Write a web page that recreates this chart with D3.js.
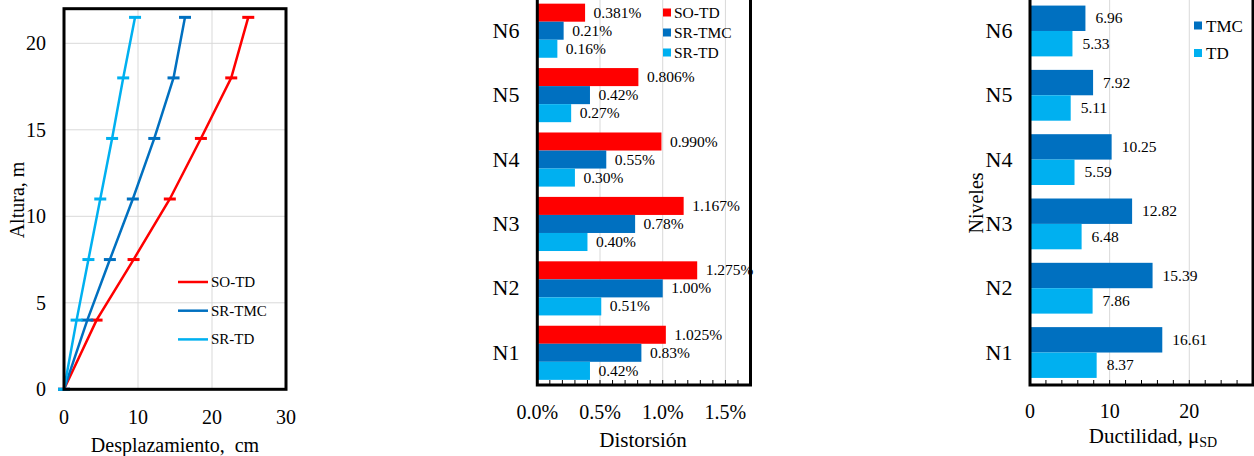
<!DOCTYPE html>
<html>
<head>
<meta charset="utf-8">
<script src="https://cdn.jsdelivr.net/npm/d3@7"></script>
<style>
  body { margin: 0; background: #fff; }
  svg, text { font-family: "Liberation Serif", "Times New Roman", "DejaVu Serif", serif; fill: #000; }
</style>
</head>
<body>
<svg id="chart" width="1254" height="456" font-family="Liberation Serif, serif"></svg>
<script>
'use strict';

// ── Data ─────────────────────────────────────────────────────────────────────
// Panel 1: lateral displacement profile
const heights   = [0, 4, 7.5, 11, 14.5, 18, 21.5];
const dispSOTD  = [0, 4.4, 9.4, 14.3, 18.5, 22.6, 24.9];
const dispSRTMC = [0, 3.15, 6.2, 9.3, 12.2, 14.8, 16.35];
const dispSRTD  = [0, 1.7, 3.3, 4.9, 6.5, 8.0, 9.6];
const dispTicksX = [0, 10, 20, 30];
const dispTicksY = [0, 5, 10, 15, 20];

// Panel 2: inter-storey drift (%)
const levels     = ['N1', 'N2', 'N3', 'N4', 'N5', 'N6'];
const driftSOTD  = [1.025, 1.275, 1.167, 0.990, 0.806, 0.381];
const driftSRTMC = [0.83, 1.00, 0.78, 0.55, 0.42, 0.21];
const driftSRTD  = [0.42, 0.51, 0.40, 0.30, 0.27, 0.16];
const driftTicks = [0, 0.5, 1.0, 1.5];

// Panel 3: ductility
const ductTMC   = [16.61, 15.39, 12.82, 10.25, 7.92, 6.96];
const ductTD    = [8.37, 7.86, 6.48, 5.59, 5.11, 5.33];
const ductTicks = [0, 10, 20];

const RED   = '#ff0000';
const DBLUE = '#0070c0';
const LBLUE = '#00b0f0';
const GRID  = '#d9d9d9';

const svg = d3.select('#chart');

// ── Panel 1 ──────────────────────────────────────────────────────────────────
(function drawDisplacement() {
  const x = d3.scaleLinear().domain([0, 30]).range([64, 286]);
  const y = d3.scaleLinear().domain([0, 22]).range([389.3, 8.7]);
  const g = svg.append('g');

  g.selectAll('.vg').data(dispTicksX.slice(1, -1)).enter().append('line')
    .attr('x1', d => x(d)).attr('x2', d => x(d))
    .attr('y1', y(22)).attr('y2', y(0))
    .attr('stroke', GRID).attr('stroke-width', 1);
  g.selectAll('.hg').data(dispTicksY.slice(1)).enter().append('line')
    .attr('x1', x(0)).attr('x2', x(30))
    .attr('y1', d => y(d)).attr('y2', d => y(d))
    .attr('stroke', GRID).attr('stroke-width', 1);

  const series = [
    { name: 'SO-TD',  vals: dispSOTD,  color: RED },
    { name: 'SR-TMC', vals: dispSRTMC, color: DBLUE },
    { name: 'SR-TD',  vals: dispSRTD,  color: LBLUE },
  ];
  const line = d3.line().x(d => x(d[0])).y(d => y(d[1]));

  series.forEach(s => {
    const pts = s.vals.map((v, i) => [v, heights[i]]);
    g.append('path').datum(pts).attr('d', line)
      .attr('fill', 'none').attr('stroke', s.color).attr('stroke-width', 2.5);
    g.selectAll(null).data(pts).enter().append('line')
      .attr('x1', d => x(d[0]) - 6).attr('x2', d => x(d[0]) + 6)
      .attr('y1', d => y(d[1])).attr('y2', d => y(d[1]))
      .attr('stroke', s.color).attr('stroke-width', 3);
  });

  g.append('rect')
    .attr('x', x(0)).attr('y', y(22))
    .attr('width', x(30) - x(0)).attr('height', y(0) - y(22))
    .attr('fill', 'none').attr('stroke', '#000').attr('stroke-width', 3);

  // Legend
  series.forEach((s, i) => {
    const ly = 282 + i * 28.7;
    g.append('line').attr('x1', 178).attr('x2', 208).attr('y1', ly).attr('y2', ly)
      .attr('stroke', s.color).attr('stroke-width', 2.5);
    g.append('text').attr('x', 211).attr('y', ly + 5)
      .style('font-size', '15px').text(s.name);
  });

  // Tick labels
  g.selectAll('.xl').data(dispTicksX).enter().append('text')
    .attr('x', d => x(d)).attr('y', 424).attr('text-anchor', 'middle')
    .style('font-size', '20px').text(d => d);
  g.selectAll('.yl').data(dispTicksY).enter().append('text')
    .attr('x', 46).attr('y', d => y(d) + 7).attr('text-anchor', 'end')
    .style('font-size', '20px').text(d => d);

  g.append('text').attr('x', 175).attr('y', 452).attr('text-anchor', 'middle')
    .style('font-size', '20px').style('white-space', 'pre').text('Desplazamiento,  cm');
  g.append('text').attr('transform', 'translate(24,200) rotate(-90)')
    .attr('text-anchor', 'middle').style('font-size', '20px').text('Altura, m');
})();

// ── Grouped horizontal bar helper ────────────────────────────────────────────
function drawBars(opt) {
  const g = svg.append('g');
  const x = d3.scaleLinear().domain([0, opt.max]).range([opt.x0, opt.x1]);
  const y = d3.scaleBand().domain(levels).range([385, -1.5])
    .paddingInner(opt.pin).paddingOuter(opt.pout);
  const sub = d3.scaleBand().domain(opt.series.map(s => s.name))
    .range([0, y.bandwidth()]);

  g.selectAll('.grid').data(opt.grid).enter().append('line')
    .attr('x1', d => x(d)).attr('x2', d => x(d))
    .attr('y1', -2).attr('y2', 385)
    .attr('stroke', GRID).attr('stroke-width', 1);

  // first series sits on top inside each group
  opt.series.forEach(s => {
    g.selectAll(null).data(s.vals).enter().append('rect')
      .attr('x', x(0))
      .attr('y', (d, i) => y(levels[i]) + sub(s.name))
      .attr('width', d => x(d) - x(0))
      .attr('height', sub.bandwidth())
      .attr('fill', s.color);
    g.selectAll(null).data(s.vals).enter().append('text')
      .attr('x', d => x(d) + opt.lblOff)
      .attr('y', (d, i) => y(levels[i]) + sub(s.name) + sub.bandwidth() / 2 + 5)
      .style('font-size', '15.5px')
      .text(d => s.fmt(d));
  });

  // Minor ticks
  const minor = d3.range(0, opt.max + 1e-9, opt.minor);
  g.selectAll('.mt').data(minor).enter().append('line')
    .attr('x1', d => x(d)).attr('x2', d => x(d))
    .attr('y1', 385).attr('y2', 380)
    .attr('stroke', '#000').attr('stroke-width', 1);

  g.append('rect')
    .attr('x', x(0)).attr('y', -1.5)
    .attr('width', x(opt.max) - x(0)).attr('height', 386.5)
    .attr('fill', 'none').attr('stroke', '#000').attr('stroke-width', 3);

  // Category labels
  g.selectAll('.cat').data(levels).enter().append('text')
    .attr('x', opt.catX).attr('y', d => y(d) + y.bandwidth() / 2 + 7)
    .attr('text-anchor', 'middle').style('font-size', '22px').text(d => d);

  // Tick labels
  g.selectAll('.tl').data(opt.ticks).enter().append('text')
    .attr('x', d => x(d)).attr('y', opt.tickY).attr('text-anchor', 'middle')
    .style('font-size', '20px').text(opt.tickFmt);

  return { g, x, y };
}

// ── Panel 2 ──────────────────────────────────────────────────────────────────
(function drawDrift() {
  const r = drawBars({
    max: 1.7, x0: 537.3, x1: 750.5, pin: 0.16, pout: 0.08,
    grid: driftTicks.slice(1), minor: 0.1, lblOff: 8.5, catX: 506,
    ticks: driftTicks, tickY: 419, tickFmt: d => d.toFixed(1) + '%',
    series: [
      { name: 'SO-TD',  vals: driftSOTD,  color: RED,   fmt: d => d.toFixed(3) + '%' },
      { name: 'SR-TMC', vals: driftSRTMC, color: DBLUE, fmt: d => d.toFixed(2) + '%' },
      { name: 'SR-TD',  vals: driftSRTD,  color: LBLUE, fmt: d => d.toFixed(2) + '%' },
    ],
  });
  [['SO-TD', RED], ['SR-TMC', DBLUE], ['SR-TD', LBLUE]].forEach((s, i) => {
    const ly = 12.5 + i * 20;
    r.g.append('rect').attr('x', 663).attr('y', ly - 4).attr('width', 8).attr('height', 8)
      .attr('fill', s[1]);
    r.g.append('text').attr('x', 674).attr('y', ly + 5)
      .style('font-size', '15.5px').text(s[0]);
  });
  r.g.append('text').attr('x', 643).attr('y', 447).attr('text-anchor', 'middle')
    .style('font-size', '21px').text('Distorsión');
})();

// ── Panel 3 ──────────────────────────────────────────────────────────────────
(function drawDuctility() {
  const r = drawBars({
    max: 28, x0: 1030, x1: 1253, pin: 0.21, pout: 0.11,
    grid: ductTicks.slice(1), minor: 2, lblOff: 10, catX: 999,
    ticks: ductTicks, tickY: 418, tickFmt: d => d,
    series: [
      { name: 'TMC', vals: ductTMC, color: DBLUE, fmt: d => d.toFixed(2) },
      { name: 'TD',  vals: ductTD,  color: LBLUE, fmt: d => d.toFixed(2) },
    ],
  });
  [['TMC', DBLUE], ['TD', LBLUE]].forEach((s, i) => {
    const ly = 25.5 + i * 27.5;
    r.g.append('rect').attr('x', 1194).attr('y', ly - 4).attr('width', 8).attr('height', 8)
      .attr('fill', s[1]);
    r.g.append('text').attr('x', 1206).attr('y', ly + 6)
      .style('font-size', '17px').text(s[0]);
  });
  const t = r.g.append('text').attr('x', 1153).attr('y', 443).attr('text-anchor', 'middle')
    .style('font-size', '21px');
  t.append('tspan').text('Ductilidad, μ');
  t.append('tspan').attr('dy', 4).style('font-size', '14px').text('SD');
  r.g.append('text').attr('transform', 'translate(983,203) rotate(-90)')
    .attr('text-anchor', 'middle').style('font-size', '20px').text('Niveles');
})();
</script>
</body>
</html>
